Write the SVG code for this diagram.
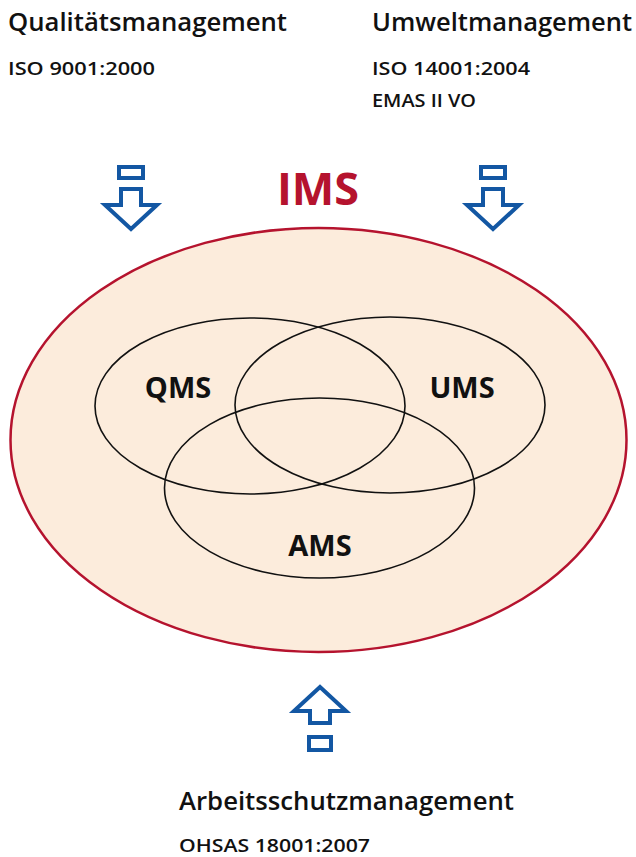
<svg xmlns="http://www.w3.org/2000/svg" width="636" height="857" viewBox="0 0 636 857">
<style>
.h{font-family:"Open Sans","Liberation Sans",sans-serif;font-size:26px;font-weight:600;fill:#111}
.s{font-family:"Open Sans","Liberation Sans",sans-serif;font-size:18.5px;font-weight:600;fill:#111}
.lbl{font-family:"Open Sans","Liberation Sans",sans-serif;font-size:29px;font-weight:bold;fill:#111;text-anchor:middle}
.arr{fill:#fff;stroke:#1357a3;stroke-width:4;stroke-linejoin:miter}
.set{fill:none;stroke:#111;stroke-width:1.6}
</style>
<rect width="636" height="857" fill="#fff"/>
<g id="ims">
<ellipse cx="318.5" cy="440" rx="308" ry="212" fill="#fcecdc" stroke="#b5132e" stroke-width="2.5"/>
<text x="318" y="205" font-family="'Open Sans','Liberation Sans',sans-serif" font-size="45" font-weight="bold" fill="#b5132e" text-anchor="middle">IMS</text>
</g>
<g id="qms"><ellipse class="set" cx="250" cy="406" rx="155" ry="88"/><text class="lbl" x="178" y="398">QMS</text></g>
<g id="ums"><ellipse class="set" cx="390" cy="405" rx="155" ry="88"/><text class="lbl" x="462" y="398">UMS</text></g>
<g id="ams"><ellipse class="set" cx="319.5" cy="488" rx="155" ry="90"/><text class="lbl" x="320" y="556">AMS</text></g>
<g id="qm">
<text class="h" x="8" y="31" textLength="279" lengthAdjust="spacingAndGlyphs">Qualitätsmanagement</text>
<text class="s" x="8" y="75" textLength="147" lengthAdjust="spacingAndGlyphs">ISO 9001:2000</text>
</g>
<g id="um">
<text class="h" x="372" y="31" textLength="260" lengthAdjust="spacingAndGlyphs">Umweltmanagement</text>
<text class="s" x="372" y="75" textLength="158" lengthAdjust="spacingAndGlyphs">ISO 14001:2004</text>
<text class="s" x="372" y="107" textLength="104" lengthAdjust="spacingAndGlyphs">EMAS II VO</text>
</g>
<g id="am">
<text class="h" x="179" y="810" textLength="335" lengthAdjust="spacingAndGlyphs">Arbeitsschutzmanagement</text>
<text class="s" x="179" y="852" textLength="191" lengthAdjust="spacingAndGlyphs">OHSAS 18001:2007</text>
</g>
<g id="connectors">
<g transform="translate(131,0)">
<rect class="arr" x="-12" y="167" width="24" height="11"/>
<path class="arr" d="M-10,189 H10 V205 H26 L0,229 L-26,205 H-10 Z"/>
</g>
<g transform="translate(493,0)">
<rect class="arr" x="-12" y="167" width="24" height="11"/>
<path class="arr" d="M-10,189 H10 V205 H26 L0,229 L-26,205 H-10 Z"/>
</g>
<g transform="translate(320,0)">
<path class="arr" d="M-10,723 H10 V711 H26 L0,687 L-26,711 H-10 Z"/>
<rect class="arr" x="-11" y="737" width="22" height="13"/>
</g>
</g>
</svg>
